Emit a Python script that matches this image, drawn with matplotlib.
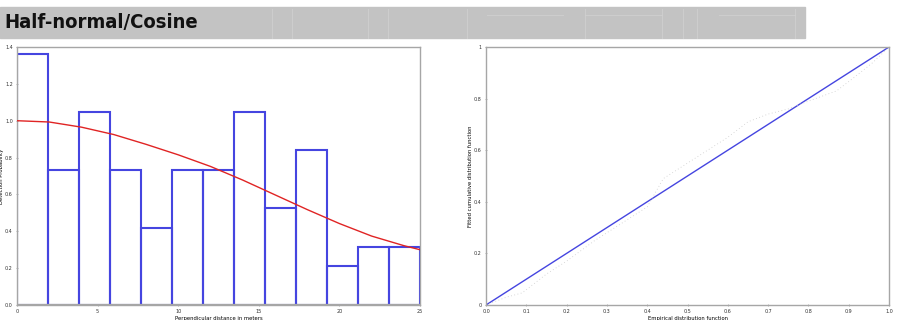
import matplotlib
matplotlib.use("Agg")
import matplotlib.pyplot as plt
import numpy as np

# histogram of perpendicular distances (scaled detection probability per bin)
bin_edges = np.linspace(0, 25, 14)
bin_heights = [1.364, 0.734, 1.049, 0.734, 0.420, 0.734, 0.734,
               1.049, 0.525, 0.839, 0.210, 0.315, 0.315]

# fitted detection function
curve_x = [0, 2, 4, 6, 8, 10, 12, 14, 16, 18, 20, 22, 24, 25]
curve_y = [1.0, 0.993, 0.965, 0.925, 0.872, 0.815, 0.752, 0.678, 0.598,
           0.518, 0.442, 0.374, 0.322, 0.30]

# q-q plot: empirical vs fitted cdf
qq_emp = [0.0, 0.05, 0.09, 0.15, 0.20, 0.27, 0.33, 0.40, 0.44, 0.50,
          0.55, 0.60, 0.65, 0.70, 0.75, 0.80, 0.87, 0.92, 0.96, 1.0]
qq_fit = [0.0, 0.03, 0.047, 0.12, 0.17, 0.25, 0.31, 0.38, 0.49, 0.55,
          0.60, 0.65, 0.71, 0.74, 0.76, 0.79, 0.83, 0.89, 0.94, 1.0]

BLUE = "#4545e0"
RED = "#e02424"
FRAME = "#a6a6a6"

fig = plt.figure(figsize=(9, 3.2), dpi=100)
fig.patch.set_facecolor("white")

# header band
fig.patches.append(plt.Rectangle((0, 1 - 38 / 320), 805 / 900, 31 / 320,
                                 transform=fig.transFigure, color="#c3c3c3",
                                 zorder=0))
for px in [272, 292, 368, 388, 467, 585, 662, 683, 697, 795]:
    fig.add_artist(plt.Line2D([px / 900, px / 900], [1 - 38 / 320, 1 - 9 / 320],
                              transform=fig.transFigure, color="#d0d0d0",
                              lw=0.6, zorder=1))
for x0, x1 in [(487, 563), (585, 662), (719, 795)]:
    fig.add_artist(plt.Line2D([x0 / 900, x1 / 900], [1 - 15 / 320, 1 - 15 / 320],
                              transform=fig.transFigure, color="#d0d0d0",
                              lw=0.6, zorder=1))
fig.text(4 / 900, 1 - 23 / 320, "Half-normal/Cosine", fontsize=14.5,
         fontweight="bold", fontstretch="condensed", color="#111111",
         va="center", ha="left", family="DejaVu Sans")


def style_axes(ax):
    for sp in ax.spines.values():
        sp.set_color(FRAME)
        sp.set_linewidth(1.0)
        sp.set_zorder(4)
    ax.tick_params(labelsize=3.5, length=2, width=0.6, color=FRAME,
                   direction="inout", pad=2, labelcolor="#333333")


# left: histogram with detection function
ax1 = fig.add_axes([17 / 900, 15 / 320, 403 / 900, 258 / 320])
ax1.bar(bin_edges[:-1], bin_heights, width=np.diff(bin_edges), align="edge",
        fill=False, edgecolor=BLUE, linewidth=1.5)
ax1.axhline(0, color=FRAME, lw=1.6, zorder=3)
ax1.plot(curve_x, curve_y, color=RED, lw=1.0, zorder=5)
ax1.set_xlim(0, 25)
ax1.set_ylim(0, 1.4)
ax1.set_xticks([0, 5, 10, 15, 20, 25])
ax1.set_yticks(np.arange(0, 1.41, 0.2))
ax1.set_yticklabels([f"{v:.1f}" for v in np.arange(0, 1.41, 0.2)])
ax1.set_xlabel("Perpendicular distance in meters", fontsize=3.8, labelpad=1)
ax1.set_ylabel("Detection Probability", fontsize=3.8, labelpad=1)
style_axes(ax1)

# right: q-q plot
ax2 = fig.add_axes([486 / 900, 15 / 320, 403 / 900, 258 / 320])
ax2.plot([0, 1], [0, 1], color=BLUE, lw=1.0)
ax2.plot(qq_emp, qq_fit, color="#cccccc", lw=0.6, linestyle=(0, (1, 3)))
ax2.set_xlim(0, 1)
ax2.set_ylim(0, 1)
ax2.set_xticks(np.arange(0, 1.01, 0.1))
ax2.set_xticklabels([f"{v:.1f}" for v in np.arange(0, 1.01, 0.1)])
ax2.set_yticks([0, 0.2, 0.4, 0.6, 0.8, 1.0])
ax2.set_yticklabels(["0", "0.2", "0.4", "0.6", "0.8", "1"])
ax2.set_xlabel("Empirical distribution function", fontsize=3.8, labelpad=1)
ax2.set_ylabel("Fitted cumulative distribution function", fontsize=3.8,
               labelpad=1)
style_axes(ax2)

plt.savefig("out.png", dpi=100)
plt.close()
